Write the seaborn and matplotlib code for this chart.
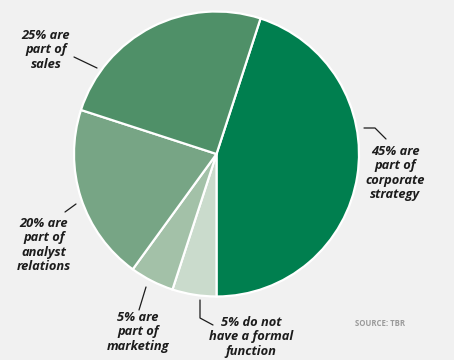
import matplotlib
matplotlib.use("Agg")
import matplotlib.pyplot as plt
from matplotlib.lines import Line2D
import seaborn as sns

categories = ["corporate strategy", "no formal function", "marketing", "analyst relations", "sales"]
values = [45, 5, 5, 20, 25]
labels = ["45% are\npart of\ncorporate\nstrategy",
          "5% do not\nhave a formal\nfunction",
          "5% are\npart of\nmarketing",
          "20% are\npart of\nanalyst\nrelations",
          "25% are\npart of\nsales"]
colors = ["#007f4f", "#cadbcc", "#a3c1a8", "#77a585", "#4f9068"]

sns.set_style("white")
plt.rcParams['font.family'] = ['Open Sans', 'DejaVu Sans']

W, H = 454, 360
fig = plt.figure(figsize=(W / 100, H / 100), dpi=100, facecolor="#f1f1f1")
cx, cy, r = 216.5, 154, 142.5
ax = fig.add_axes([(cx - r) / W, (H - cy - r) / H, 2 * r / W, 2 * r / H])
ax.set_facecolor("#f1f1f1")
ax.pie(values, colors=sns.color_palette(colors), startangle=72, counterclock=False,
       radius=1, wedgeprops=dict(edgecolor="white", linewidth=1.6))
ax.set_xlim(-1, 1)
ax.set_ylim(-1, 1)
ax.set_aspect("equal")
ax.axis("off")

def px(x, y):
    return x / W, 1 - y / H

# label centers (x, top y) in pixels
label_pos = [(395, 145), (251, 316), (138, 311), (44, 217), (46, 29)]
for lab, (x, y) in zip(labels, label_pos):
    fx, fy = px(x, y)
    fig.text(fx, fy, lab, ha="center", va="top", fontsize=9.3, style="italic",
             weight="bold", color="#1c1c1c", linespacing=1.13)

leaders = [
    [(364, 128), (375, 128), (386, 139)],
    [(200, 300), (200, 318), (213, 325)],
    [(146, 287), (139, 310)],
    [(76, 204), (65, 212)],
    [(74, 57), (97, 68)],
]
for pts in leaders:
    xs = [p[0] / W for p in pts]
    ys = [1 - p[1] / H for p in pts]
    fig.add_artist(Line2D(xs, ys, color="#1c1c1c", linewidth=0.9))

fx, fy = px(355, 323)
fig.text(fx, fy, "SOURCE: TBR", ha="left", va="center", fontsize=5.6,
         weight="bold", color="#9a9a9a")

fig.savefig("out.png", dpi=100, facecolor=fig.get_facecolor())
